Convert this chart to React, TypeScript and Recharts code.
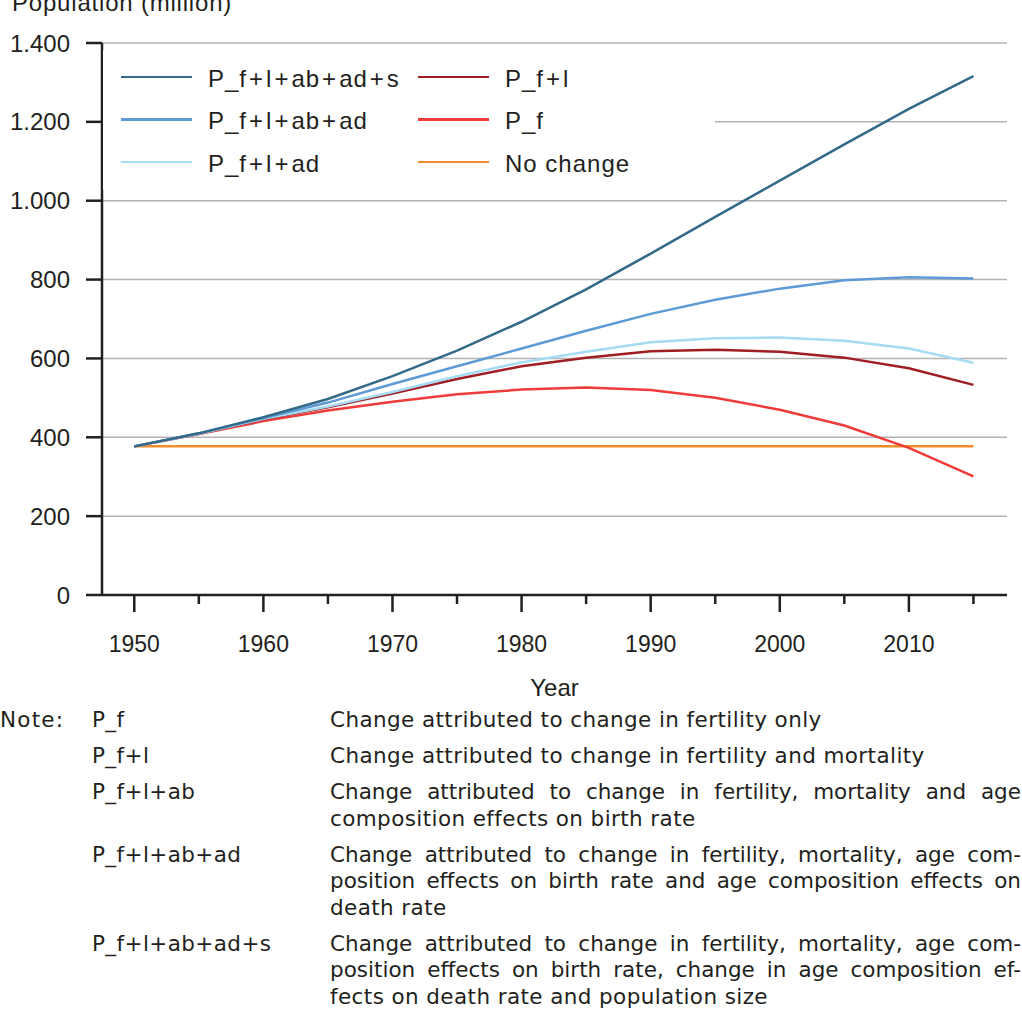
import { LineChart, Line, XAxis, YAxis, CartesianGrid, Legend } from 'recharts';

const years = [1950, 1955, 1960, 1965, 1970, 1975, 1980, 1985, 1990, 1995, 2000, 2005, 2010, 2015];
const pFLAbAdS = [377, 410, 451, 497, 555, 620, 693, 775, 866, 959, 1051, 1143, 1233, 1316];
const pFLAbAd = [377, 410, 449, 488, 535, 580, 625, 670, 713, 749, 777, 798, 806, 803];
const pFLAd = [377, 409, 447, 478, 515, 555, 590, 617, 641, 651, 653, 645, 625, 589];
const pFL = [377, 409, 446, 476, 511, 548, 580, 602, 618, 622, 617, 602, 575, 533];
const pF = [377, 408, 441, 468, 490, 509, 521, 526, 520, 500, 470, 430, 373, 301];
const noChange = [377, 377, 377, 377, 377, 377, 377, 377, 377, 377, 377, 377, 377, 377];

const yTicks = [0, 200, 400, 600, 800, 1000, 1200, 1400];

const noteLabels = ['P_f', 'P_f+l', 'P_f+l+ab', 'P_f+l+ab+ad', 'P_f+l+ab+ad+s'];
const noteLines = [
  ['Change attributed to change in fertility only'],
  ['Change attributed to change in fertility and mortality'],
  ['Change attributed to change in fertility, mortality and age', 'composition effects on birth rate'],
  [
    'Change attributed to change in fertility, mortality, age com-',
    'position effects on birth rate and age composition effects on',
    'death rate',
  ],
  [
    'Change attributed to change in fertility, mortality, age com-',
    'position effects on birth rate, change in age composition ef-',
    'fects on death rate and population size',
  ],
];

const FONT = '"Liberation Sans", Arial, sans-serif';
const NOTE_FONT = '"DejaVu Sans", "Liberation Sans", sans-serif';
const INK = '#231f20';
const GRID = '#b3b3b3';

const series = [
  { key: 'noChange', name: 'No change', color: '#f28c28', values: noChange },
  { key: 'pF', name: 'P_f', color: '#ef3b39', values: pF },
  { key: 'pFL', name: 'P_f+l', color: '#a11d24', values: pFL },
  { key: 'pFLAd', name: 'P_f+l+ad', color: '#a5dbf3', values: pFLAd },
  { key: 'pFLAbAd', name: 'P_f+l+ab+ad', color: '#5e9bd6', values: pFLAbAd },
  { key: 'pFLAbAdS', name: 'P_f+l+ab+ad+s', color: '#336a89', values: pFLAbAdS },
];

// legend columns as in the original (left: blues, right: reds)
const legendCols = [
  ['pFLAbAdS', 'pFLAbAd', 'pFLAd'],
  ['pFL', 'pF', 'noChange'],
];

const data = years.map((year, i) => {
  const row: Record<string, number> = { year };
  series.forEach((s) => {
    row[s.key] = s.values[i];
  });
  return row;
});

const fmtY = (v: number) => String(v).replace(/\B(?=(\d{3})+(?!\d))/g, '.');

function PlusText({ text, gap }: { text: string; gap: number }) {
  const parts = text.split('+');
  return (
    <>
      {parts.map((p, i) => (
        <span key={i}>
          {i > 0 && <span style={{ margin: `0 ${gap}px` }}>+</span>}
          {p}
        </span>
      ))}
    </>
  );
}

function YearTick({ x, y, payload }: any) {
  const major = payload.value % 10 === 0;
  return (
    <g>
      <line x1={x} x2={x} y1={y} y2={y + (major ? 17 : 9)} stroke={INK} strokeWidth={2.5} />
      {major && (
        <text x={x} y={y + 57} textAnchor="middle" fill={INK} fontSize={23} fontFamily={FONT}>
          {payload.value}
        </text>
      )}
    </g>
  );
}

function LegendBox() {
  return (
    <div style={{ position: 'relative', width: 612, height: 140, fontFamily: FONT, color: INK }}>
      {legendCols.map((col, ci) =>
        col.map((key, ri) => {
          const s = series.find((d) => d.key === key)!;
          return (
            <div
              key={key}
              style={{
                position: 'absolute',
                left: ci === 0 ? 18 : 315,
                top: 27 + ri * 42.5 - 15,
                height: 30,
                display: 'flex',
                alignItems: 'center',
                whiteSpace: 'nowrap',
              }}
            >
              <div style={{ width: 71, height: 2.5, background: s.color, marginRight: 16 }} />
              <span style={{ fontSize: 24, letterSpacing: 1, lineHeight: '30px', marginTop: 3 }}>
                <PlusText text={s.name} gap={2} />
              </span>
            </div>
          );
        })
      )}
    </div>
  );
}

function Notes() {
  const textStyle = { fontSize: 21.5, letterSpacing: 0.4, lineHeight: '26.5px', color: INK, fontFamily: NOTE_FONT };
  return (
    <div style={{ position: 'absolute', left: 0, top: 707, width: 1022 }}>
      <div style={{ position: 'absolute', left: 0, top: 0, ...textStyle, letterSpacing: 1.2 }}>Note:</div>
      {noteLabels.map((label, i) => (
        <div key={label} style={{ display: 'flex', marginBottom: 9.5 }}>
          <div style={{ width: 238, marginLeft: 92, ...textStyle, whiteSpace: 'nowrap' }}>
            <PlusText text={label} gap={0} />
          </div>
          <div style={{ width: 691 }}>
            {noteLines[i].map((line, li) => {
              const last = li === noteLines[i].length - 1;
              return (
                <div
                  key={li}
                  style={{
                    ...textStyle,
                    whiteSpace: 'nowrap',
                    textAlign: last ? 'left' : 'justify',
                    textAlignLast: last ? 'left' : 'justify',
                    letterSpacing: last ? 0.4 : 0,
                  }}
                >
                  {line}
                </div>
              );
            })}
          </div>
        </div>
      ))}
    </div>
  );
}

export default function App() {
  return (
    <div
      style={{
        position: 'absolute',
        left: 0,
        top: 0,
        width: 1022,
        height: 1010,
        overflow: 'hidden',
        background: '#fff',
        fontFamily: FONT,
      }}
    >
      <div
        style={{
          position: 'absolute',
          left: 12,
          top: -9,
          fontSize: 24,
          lineHeight: '24px',
          letterSpacing: 0.8,
          color: INK,
          whiteSpace: 'nowrap',
        }}
      >
        Population (million)
      </div>
      <div style={{ position: 'absolute', left: 0, top: 0 }}>
        <LineChart width={1022} height={700} data={data} margin={{ top: 43, right: 15, left: 0, bottom: 0 }}>
          <CartesianGrid
            vertical={false}
            stroke={GRID}
            strokeWidth={1.5}
            horizontalValues={yTicks.filter((t) => t > 0)}
          />
          <XAxis
            dataKey="year"
            type="number"
            domain={[1947.5, 2017.6]}
            ticks={years}
            interval={0}
            height={105}
            axisLine={{ stroke: INK, strokeWidth: 2.5 }}
            tickLine={false}
            tickSize={0}
            tickMargin={0}
            tick={<YearTick />}
            label={{ value: 'Year', position: 'insideBottom', offset: 4, fill: INK, fontSize: 24, fontFamily: FONT }}
          />
          <YAxis
            type="number"
            domain={[0, 1400]}
            ticks={yTicks}
            interval={0}
            width={102}
            axisLine={{ stroke: INK, strokeWidth: 2.5 }}
            tickLine={{ stroke: INK, strokeWidth: 2.5 }}
            tickSize={16}
            tickMargin={16}
            tickFormatter={fmtY}
            tick={{ fill: INK, fontSize: 24, fontFamily: FONT }}
          />
          <Legend
            layout="horizontal"
            verticalAlign="middle"
            align="center"
            wrapperStyle={{ left: 103, top: 50, width: 612, height: 140, background: '#fff' }}
            content={() => <LegendBox />}
          />
          {series.map((s) => (
            <Line
              key={s.key}
              type="linear"
              dataKey={s.key}
              name={s.name}
              stroke={s.color}
              strokeWidth={2.5}
              dot={false}
              activeDot={false}
              isAnimationActive={false}
            />
          ))}
        </LineChart>
      </div>
      <Notes />
    </div>
  );
}
